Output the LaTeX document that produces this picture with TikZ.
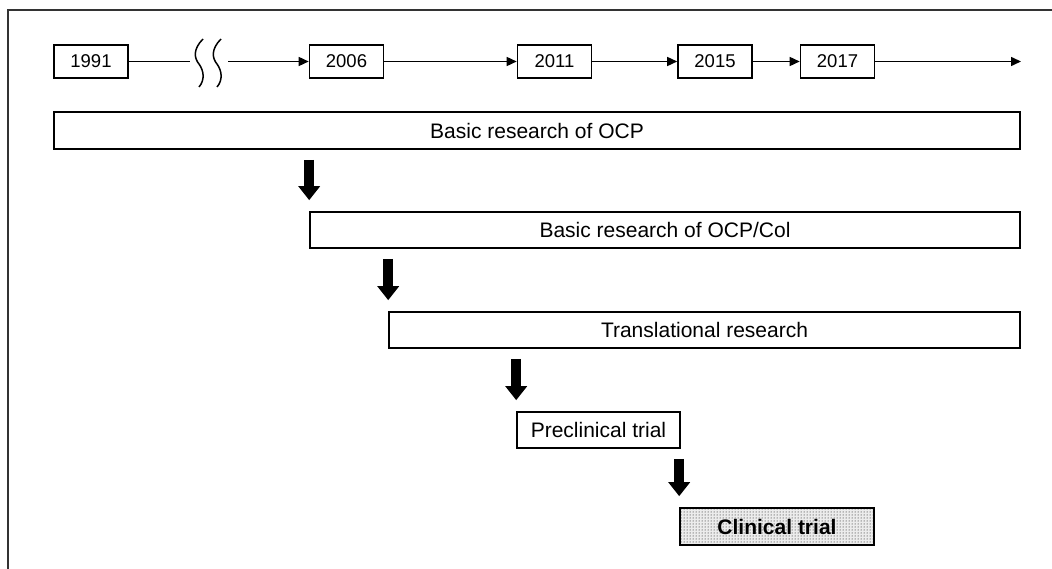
\documentclass[tikz,border=0pt]{standalone}
\usepackage{fontspec}
\setmainfont{Liberation Sans}
\usetikzlibrary{arrows.meta,patterns}
\begin{document}
\begin{tikzpicture}[x=1pt,y=-1pt,
  yearbox/.style={draw, line width=1.6pt, inner sep=0pt, minimum width=74pt, minimum height=33pt, font=\fontsize{18.5}{20}\selectfont},
  barbox/.style={draw, line width=1.6pt, inner sep=0pt, minimum height=36pt, font=\fontsize{21}{24}\selectfont},
  tline/.style={line width=1.5pt},
  tarrow/.style={line width=1.5pt, -{Triangle[length=10pt,width=9pt]}},
  bigarrow/.style={line width=10pt, -{Triangle[length=14pt,width=21pt]}, shorten <=10pt, shorten >=11pt},
  squiggle/.style={line width=1.5pt}
]
\useasboundingbox (0,0) rectangle (1052,569);
% frame
\draw[line width=1.6pt, black!80] (8,569) -- (8,10) -- (1052,10);

% timeline
\node[yearbox] (y1991) at (91,61.5) {1991};
\node[yearbox] (y2006) at (346.5,61.5) {2006};
\node[yearbox] (y2011) at (554.5,61.5) {2011};
\node[yearbox] (y2015) at (715,61.5) {2015};
\node[yearbox] (y2017) at (837.5,61.5) {2017};
\coordinate (brkA) at (190,61.5);
\coordinate (brkB) at (228,61.5);
\coordinate (tend) at (1021,61.5);

\draw[tline] (y1991) -- (brkA);
\draw[squiggle] (203,39) .. controls (193,49) and (194,58) .. (199,64) .. controls (204,71) and (205,80) .. (199,87);
\draw[squiggle] (221,39) .. controls (211,49) and (212,58) .. (217,64) .. controls (222,71) and (223,80) .. (217,87);
\draw[tarrow] (brkB) -- (y2006);
\draw[tarrow] (y2006) -- (y2011);
\draw[tarrow] (y2011) -- (y2015);
\draw[tarrow] (y2015) -- (y2017);
\draw[tarrow] (y2017) -- (tend);

% bars
\node[barbox, minimum width=966pt, minimum height=37pt] (b1) at (537,130.5) {Basic research of OCP};
\node[barbox, minimum width=710pt] (b2) at (665,230) {Basic research of OCP/Col};
\node[barbox, minimum width=631pt] (b3) at (704.5,330) {Translational research};
\node[barbox, minimum width=163pt] (b4) at (598.5,430) {Preclinical trial};
\node[barbox, minimum width=194pt, minimum height=37pt, preaction={fill=gray!15}, pattern=dots, pattern color=black] (b5) at (777,526.5) {\bfseries Clinical trial};

% thick arrows
\draw[bigarrow] (b1.south -| b2.west) -- (b2.north west);
\draw[bigarrow] (b2.south -| b3.west) -- (b3.north west);
\draw[bigarrow] (b3.south -| b4.west) -- (b4.north west);
\draw[bigarrow] (b4.south -| b5.west) -- (b5.north west);
\end{tikzpicture}
\end{document}
